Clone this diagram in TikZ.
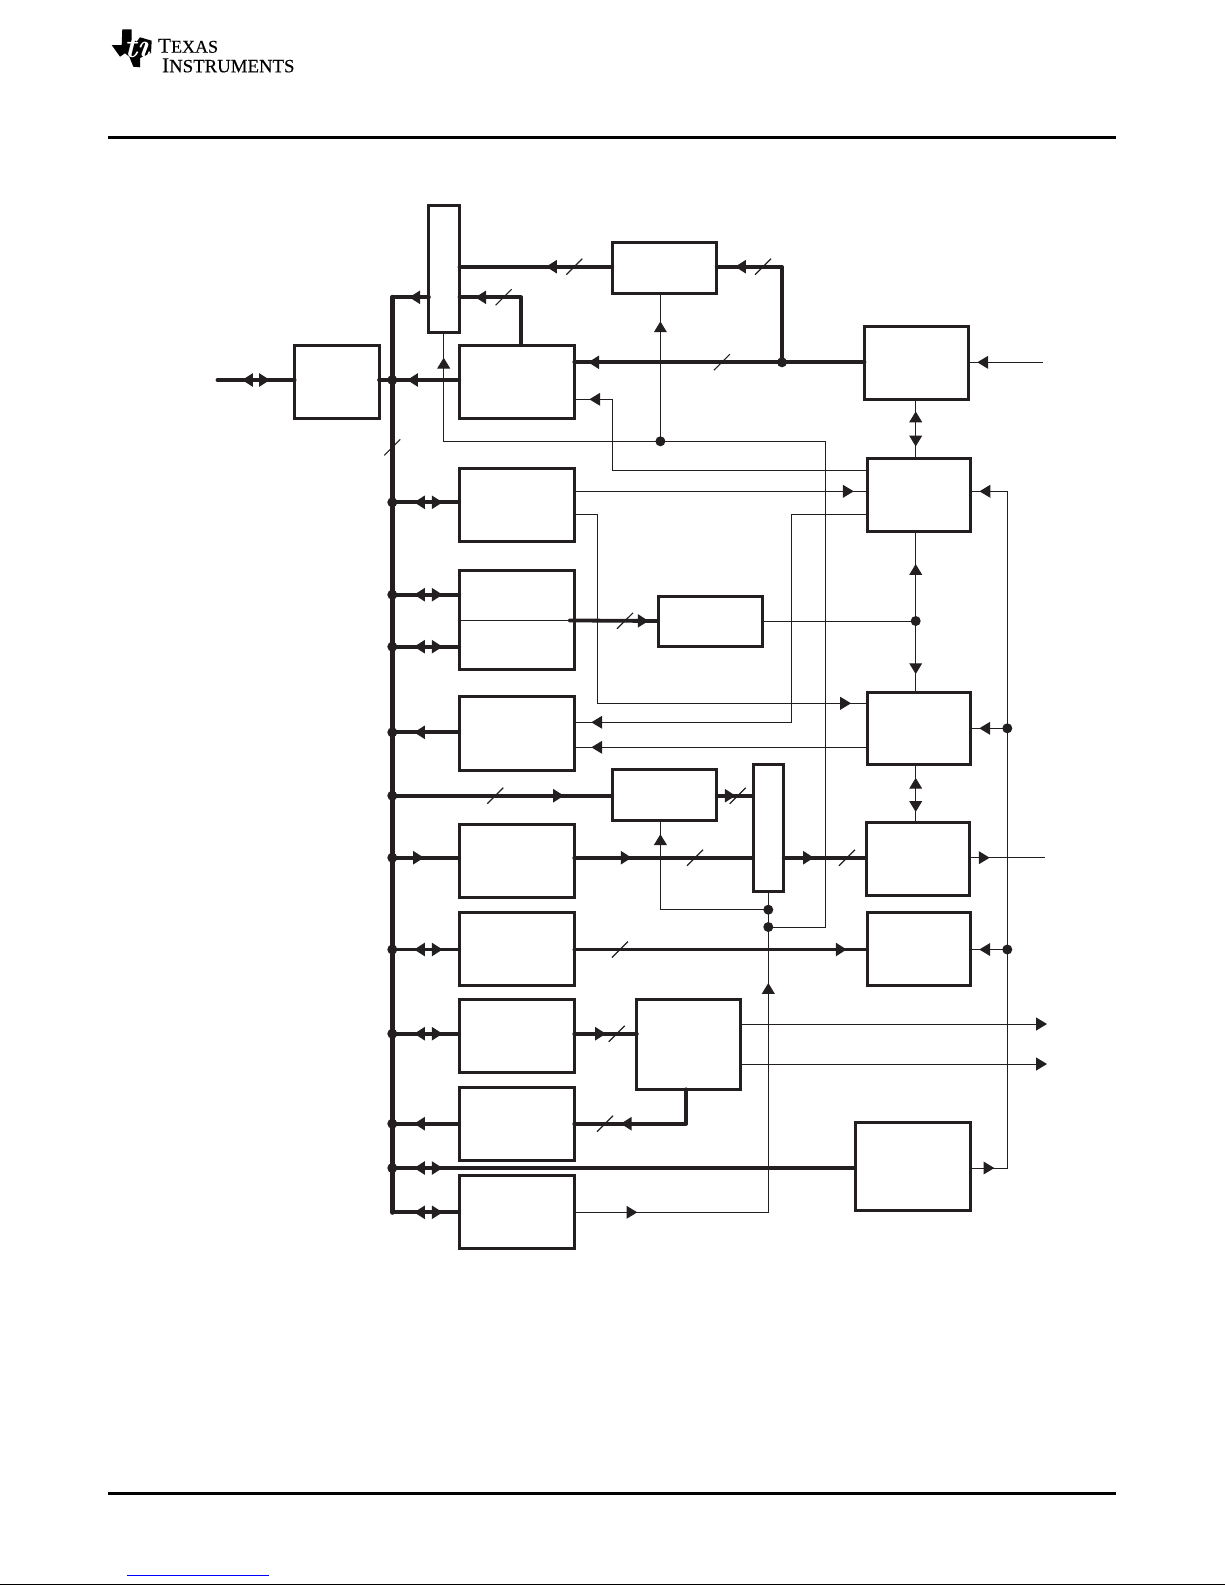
\documentclass[tikz,border=0pt]{standalone}
\usepackage{fontspec}
\usetikzlibrary{positioning, arrows.meta, decorations.markings}
\newfontfamily\logofont[FakeBold=0.25]{Liberation Serif}
\definecolor{tiblack}{RGB}{35,31,32}
\newcommand{\logoword}[3]{\fontsize{10.6}{12}\selectfont #1\fontsize{#3}{12}\selectfont #2}
\begin{document}
\begin{tikzpicture}[
    x=0.5pt, y=-0.5pt,
    >={Triangle[length=5.4pt,width=6.4pt]},
    blk/.style={draw=tiblack, line width=1.5pt, fill=white, inner sep=0pt, outer sep=0pt},
    lblk/.style={blk, minimum width=57.5pt, minimum height=36.6pt},
    rblk/.style={blk, minimum width=51.8pt, minimum height=36.4pt},
    sblk/.style={blk, minimum width=52.2pt, minimum height=25.3pt},
    mux/.style={blk, minimum width=15.3pt, minimum height=63.5pt},
    jdot/.style={circle, fill=tiblack, inner sep=0pt, outer sep=0pt, minimum size=5pt},
    trunk/.style={draw=tiblack, line width=2.5pt, line cap=round, line join=round},
    link/.style={draw=tiblack, line width=1.9pt, line cap=round, line join=round},
    wire/.style={draw=tiblack, line width=0.5pt},
    rulebar/.style={draw=black, line width=1.5pt},
    logotxt/.style={anchor=base west, inner sep=0pt, font=\logofont},
    tipf/.style={postaction={decorate, decoration={markings, mark=at position #1*0.5pt with {\arrow{>}}}}},
    tipb/.style={postaction={decorate, decoration={markings, mark=at position #1*0.5pt with {\arrowreversed{>}}}}},
    slashh/.style={postaction={decorate, decoration={markings, mark=at position #1*0.5pt with {\draw[line width=0.6pt, line cap=butt] (-4pt,-4pt) -- (4pt,4pt);}}}},
    slashv/.style={postaction={decorate, decoration={markings, mark=at position #1*0.5pt with {\draw[line width=0.6pt, line cap=butt] (-4pt,4pt) -- (4pt,-4pt);}}}},
    dbl/.style={tipb=21.7, tipf=50.4},
]
\useasboundingbox (0,0) rectangle (1225,1585);

% ------------------------------------------------------------- page frame ---
\fill[black] (122.3,29.3) -- (131.7,29.3) -- (131.7,38.3) -- (136.7,41.7) -- (140,37.3) -- (151.7,40.7)
  -- (151,53) -- (140,58) -- (140,67.3) -- (133.3,66.7) -- (129.3,56.7) -- (125,53.3) -- (120,56.7)
  -- (111.7,45) -- (121.7,45) -- cycle;
\node[text=white, font=\fontsize{17}{17}\selectfont\bfseries\itshape] (logomark) at (137,46) {ti};
\node[logotxt] (logoa) at (157.7,52.7) {\logoword{T}{EXAS}{9}};
\node[logotxt] (logob) at (161.7,72.3) {\logoword{I}{NSTRUMENTS}{9.4}};
\coordinate (rulel) at (108,137.5);
\coordinate (ruler) at (1116,137.5);
\draw[rulebar] (rulel) -- (ruler);
\draw[rulebar] (rulel |- 0,1493.3) -- (ruler |- 0,1493.3);
\draw[draw=blue, line width=0.5pt] (127,1575.3) -- (268.7,1575.3);
\draw[draw=black, line width=0.5pt] (0,1584.6) -- (1225,1584.6);

% --------------------------------------------------------------- x and y ---
\foreach \lname/\lx in {xin/217.5, xbus/392.3, xmast/443.7, xhop/521, xsw/597.7, xfb/612.7, xctl/660.4,
    xe/686, xmux/768.3, xaj/782, xswb/791, xfar/825.3, xmid/915.7, xrail/1007.3, xout/1043, xoutb/1045, xoute/1047}
  \coordinate (\lname) at (\lx,0);
\foreach \lname/\ly in {yma/266.7, ytop/297.3, yrone/362.3, yext/380, yfbl/399.3, ymast/441.3, yfbr/470.7,
    yout/491.3, ytwo/502.3, ysw/514, ythreea/594.7, ythreeb/646.7, yrta/703.3, yfoura/722.3, yrtc/728.3,
    yfour/732.3, yrtb/747.3, yd/795.7, yfive/857.7, yms/909.7, ymsb/927, ysix/949.5, yea/1024, yseven/1033.7,
    yeb/1064, yeight/1123.7, yf/1168, ynine/1212.3}
  \coordinate (\lname) at (0,\ly);

% ------------------------------------------------------------ left column ---
\node[lblk] (l1) at (516.8,381.85) {};
\node[lblk, left=40.15pt of l1, minimum width=42.2pt] (xcvr) {};
\node[lblk, below=24.8pt of l1] (l2) {};
\node[lblk, below=14.85pt of l2, minimum height=49.5pt] (l3) {};
\node[lblk, below=13.5pt of l3] (l4) {};
\node[lblk, below=27.05pt of l4] (l5) {};
\node[lblk, below=7.4pt of l5] (l6) {};
\node[lblk, below=7pt of l6] (l7) {};
\node[lblk, below=7.3pt of l7] (l8) {};
\node[lblk, below=7.4pt of l8] (l9) {};

% ----------------------------------------------------------- right column ---
\node[rblk] (r1) at (916.3,362.65) {};
\node[rblk] (r2) at (918.85,494.65) {};
\node[rblk] (r3) at (918.85,728.5) {};
\node[rblk] (r4) at (917.85,858.8) {};
\node[rblk] (r5) at (918.85,948.9) {};
\node[blk, minimum width=57.8pt, minimum height=44pt] (rf) at (913,1166) {};

% ---------------------------------------------------------- middle blocks ---
\node[mux] (mtop) at (444.2,268.5) {};
\node[mux] (mbot) at (768.35,828.2) {};
\node[sblk, minimum height=25.5pt] (tbuf) at (664.5,268.35) {};
\node[sblk, minimum height=25pt] (cbuf) at (710.5,621) {};
\node[sblk] (dbuf) at (664.5,795.15) {};
\node[blk, minimum width=52pt, minimum height=44.9pt] (ebuf) at (688.85,1044.4) {};

% ------------------------------------------------------------ trunk links ---
\draw[trunk, slashv=150] (xbus |- ytop) -- (xbus |- ynine);
\draw[link, tipb=24.5, tipf=52.5] (xin |- yext) -- (xcvr.west |- yext);
\draw[link] (xcvr.east |- yext) -- (xbus |- yext);
\draw[link, tipf=52.3] (l1.west |- yext) -- (xbus |- yext);
\draw[link, tipf=19.7] (mtop.west |- ytop) -- (xbus |- ytop);
\draw[link, tipf=93.7, slashh=65.4] (xhop |- l1.north) -- (xhop |- ytop) -- (mtop.east |- ytop);
\draw[link, tipf=66.3, slashh=38] (tbuf.west |- yma) -- (mtop.east |- yma);
\draw[link, tipf=142.6, slashh=114.6] (xaj |- yrone) -- (xaj |- yma) -- (tbuf.east |- yma);
\draw[link, tipf=276.3, slashh=142.7] (r1.west |- yrone) -- (l1.east |- yrone);
\foreach \yy in {ytwo, ythreea, ythreeb, ysix, yseven, ynine}
  \draw[link, dbl] (xbus |- \yy) -- (l1.west |- \yy);
\draw[link, tipf=45.3] (l4.west |- yfour) -- (xbus |- yfour);
\draw[link, tipf=45.3] (l8.west |- yeight) -- (xbus |- yeight);
\draw[link, tipf=31.7] (xbus |- yfive) -- (l5.west |- yfive);
\draw[link, dbl] (xbus |- yf) -- (rf.west |- yf);
\draw[link, tipf=171.7, slashh=103] (xbus |- yd) -- (dbuf.west |- yd);
\draw[link, tipf=79.3, slashh=55.7] ([xshift=-2.5pt]l3.east) -- (cbuf.west);
\draw[link, tipf=19, slashh=21] (dbuf.east |- yd) -- (mbot.west |- yd);
\draw[link, tipf=57.4, slashh=120.7] (l5.east |- yfive) -- (mbot.west |- yfive);
\draw[link, tipf=30.3, slashh=63.3] (mbot.east |- yfive) -- (r4.west |- yfive);
\draw[link, tipf=272.4, slashh=45.7] (l6.east |- ysix) -- (r5.west |- ysix);
\draw[link, tipf=31.7, slashh=42.4] (l7.east |- yseven) -- (ebuf.west |- yseven);
\draw[link, tipf=99.7, slashh=115.4] (xe |- ebuf.south) -- (xe |- yeight) -- (l8.east |- yeight);

% ------------------------------------------------------------- thin wires ---
\draw[wire] (l3.west) -- (l3.east);
\draw[wire, tipf=1007.9] (xmux |- ymsb) -- (xfar |- ymsb) -- (xfar |- ymast) -- (xmast |- ymast) -- (xmast |- mtop.south);
\draw[wire, tipf=119.9] (xctl |- ymast) -- (xctl |- tbuf.south);
\draw[wire, tipf=349.1] (r2.west |- yfbr) -- (xfb |- yfbr) -- (xfb |- yfbl) -- (l1.east |- yfbl);
\draw[wire, tipf=279.4] (l2.east |- yout) -- (r2.west |- yout);
\draw[wire, tipf=466] (l2.east |- ysw) -- (xsw |- ysw) -- (xsw |- yrta) -- (r3.west |- yrta);
\draw[wire, tipf=484] (r2.west |- ysw) -- (xswb |- ysw) -- (xswb |- yfoura) -- (l4.east |- yfoura);
\draw[wire, tipf=275.7] (r3.west |- yrtb) -- (l4.east |- yrtb);
\draw[wire, tipb=12.4, tipf=47.4] (xmid |- r1.south) -- (xmid |- r2.north);
\draw[wire, tipb=33, tipf=143] (xmid |- r2.south) -- (xmid |- r3.north);
\draw[wire] (cbuf.east) -- (xmid |- cbuf.east);
\draw[wire, tipb=13, tipf=47] (xmid |- r3.south) -- (xmid |- r4.north);
\draw[wire, tipf=65.7] (xout |- yrone) -- (r1.east |- yrone);
\draw[wire, tipf=23.5, tipf=741] (rf.east |- yf) -- (xrail |- yf) -- (xrail |- yout) -- (r2.east |- yout);
\draw[wire, tipf=28] (xrail |- yrtc) -- (r3.east |- yrtc);
\draw[wire, tipf=28] (xrail |- ysix) -- (r5.east |- ysix);
\draw[wire, tipf=20] (r4.east |- yfive) -- (xoutb |- yfive);
\draw[wire, tipf=63, tipf=423.3] (l9.east |- ynine) -- (xmux |- ynine) -- (xmux |- mbot.south);
\draw[wire, tipf=183.4] (xmux |- yms) -- (xctl |- yms) -- (xctl |- dbuf.south);
\draw[wire, ->] (ebuf.east |- yea) -- (xoute |- yea);
\draw[wire, ->] (ebuf.east |- yeb) -- (xoute |- yeb);

% -------------------------------------------------------------- junctions ---
\foreach \yy in {yext, ytwo, ythreea, ythreeb, yfour, yd, yfive, ysix, yseven, yeight, yf}
  \node[jdot] (dot\yy) at (xbus |- \yy) {};
\node[jdot] (dotaj) at (xaj |- yrone) {};
\node[jdot] (dotctl) at (xctl |- ymast) {};
\node[jdot] (dotmid) at (xmid |- cbuf.east) {};
\node[jdot] (dotms) at (xmux |- yms) {};
\node[jdot] (dotmsb) at (xmux |- ymsb) {};
\node[jdot] (dotrc) at (xrail |- yrtc) {};
\node[jdot] (dotrs) at (xrail |- ysix) {};

\end{tikzpicture}
\end{document}
